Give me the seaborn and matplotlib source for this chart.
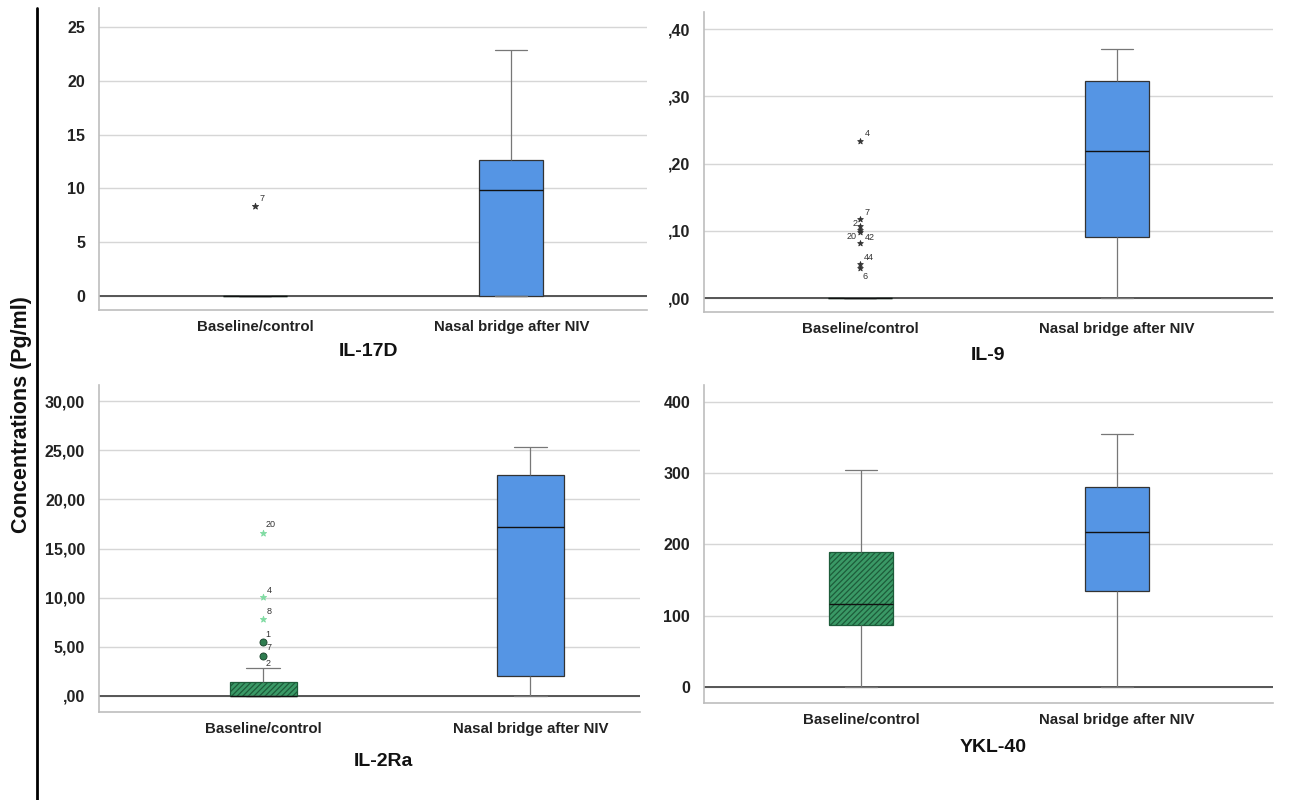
import pandas as pd
import seaborn as sns
import matplotlib.pyplot as plt
from matplotlib.lines import Line2D

groups = ["Baseline/control", "Nasal bridge after NIV"]

# box summaries: whisker low, q1, median, q3, whisker high
il17d_base = [0, 0, 0, 0, 0]
il17d_nasal = [0, 0, 9.85, 12.64, 22.9]
il9_base = [0, 0, 0, 0, 0]
il9_nasal = [0, 0.091, 0.219, 0.323, 0.370]
il2ra_base = [0, 0, 0, 1.45, 2.88]
il2ra_nasal = [0, 2.03, 17.22, 22.47, 25.35]
ykl40_base = [0, 87, 116.5, 190, 304.6]
ykl40_nasal = [0, 134.7, 217.5, 280.7, 355]

# outliers of the baseline group (values and case numbers)
il17d_stars = [8.4]
il17d_star_ids = ["7"]
il9_stars = [0.234, 0.117, 0.107, 0.101, 0.098, 0.082, 0.050, 0.045]
il9_star_ids = ["4", "7", "2", "20", "42", "", "44", "6"]
il2ra_stars = [16.6, 10.04, 7.86]
il2ra_star_ids = ["20", "4", "8"]
il2ra_circles = [5.52, 4.10]
il2ra_circle_ids = ["1", "7"]
il2ra_cap_id = ["2"]
il2ra_cap_val = [2.88]

# axis ticks
il17d_ticks = [0, 5, 10, 15, 20, 25]
il17d_labels = ["0", "5", "10", "15", "20", "25"]
il9_ticks = [0, 0.1, 0.2, 0.3, 0.4]
il9_labels = [",00", ",10", ",20", ",30", ",40"]
il2ra_ticks = [0, 5, 10, 15, 20, 25, 30]
il2ra_labels = [",00", "5,00", "10,00", "15,00", "20,00", "25,00", "30,00"]
ykl40_ticks = [0, 100, 200, 300, 400]
ykl40_labels = ["0", "100", "200", "300", "400"]

BLUE = "#5595e4"
GREEN = "#3a9966"
DKGREEN = "#1d5c3a"
LTGREEN = "#7fdba2"

sns.set_theme(style="white")
plt.rcParams["font.family"] = ["Liberation Sans", "DejaVu Sans"]
plt.rcParams["hatch.linewidth"] = 0.9

W, H = 1293, 800
fig = plt.figure(figsize=(W / 100, H / 100), dpi=100)


def px_axes(left, top, right, bottom):
    return fig.add_axes([left / W, 1 - bottom / H, (right - left) / W, (bottom - top) / H])


def draw_panel(ax, base, nasal, ticks, labels, ylim, xlim):
    df = pd.DataFrame({
        "group": [groups[0]] * len(base) + [groups[1]] * len(nasal),
        "value": base + nasal,
    })
    ax.axhline(0, color="#555555", lw=1.4, zorder=1.5)
    sns.boxplot(
        data=df, x="group", y="value", hue="group", order=groups,
        hue_order=groups, palette=[GREEN, BLUE], saturation=1, width=0.25,
        whis=(0, 100), showfliers=False, legend=False, linecolor="#333333",
        linewidth=0.9, whiskerprops=dict(color="#777777"),
        capprops=dict(color="#777777"),
        medianprops=dict(color="#111111", lw=1.0), ax=ax,
    )
    for p in ax.patches:
        ext = p.get_path().get_extents()
        if (ext.x0 + ext.x1) / 2 < 0.5:
            p.set_hatch("//////")
            p.set_edgecolor(DKGREEN)
    # shorter caps, about half the box width
    for ln in ax.lines:
        xd, yd = ln.get_xdata(), ln.get_ydata()
        if len(xd) == 2 and yd[0] == yd[1] and ln.get_color() == "#777777":
            c = (xd[0] + xd[1]) / 2
            ln.set_xdata([c - 0.0625, c + 0.0625])
    ax.set_xlim(*xlim)
    ax.set_ylim(*ylim)
    ax.set_yticks(ticks)
    ax.set_yticklabels(labels, fontweight="bold", fontsize=11.5, color="#222222")
    ax.set_xticks([0, 1])
    ax.set_xticklabels(groups, fontweight="bold", fontsize=10.8, color="#222222")
    ax.set_xlabel("")
    ax.set_ylabel("")
    ax.grid(axis="y", color="#d6d6d6", lw=1)
    ax.set_axisbelow(True)
    for s in ["top", "right"]:
        ax.spines[s].set_visible(False)
    for s in ["left", "bottom"]:
        ax.spines[s].set_color("#bdbdbd")
        ax.spines[s].set_linewidth(1.2)
    ax.tick_params(axis="y", length=4, color="#bdbdbd", pad=6)
    ax.tick_params(axis="x", length=0, pad=7)


def mark(ax, vals, ids, marker, color, size, offsets, edge=None):
    xs = [0] * len(vals)
    sns.scatterplot(x=xs, y=vals, marker=marker, color=color, s=size,
                    edgecolor=edge if edge else color, linewidth=0.6,
                    ax=ax, legend=False, zorder=5)
    for v, t, off in zip(vals, ids, offsets):
        if t:
            ax.annotate(t, (0, v), xytext=off, textcoords="offset pixels",
                        fontsize=6.5, color="#333333", ha="center", va="center")


ax1 = px_axes(99, 8, 647, 310)
draw_panel(ax1, il17d_base, il17d_nasal, il17d_ticks, il17d_labels,
           (-1.3, 26.77), (-0.61, 1.53))
mark(ax1, il17d_stars, il17d_star_ids, "*", "#333333", 22, [(7, 7)])

ax2 = px_axes(704, 12, 1273, 312)
draw_panel(ax2, il9_base, il9_nasal, il9_ticks, il9_labels,
           (-0.0208, 0.4253), (-0.61, 1.61))
mark(ax2, il9_stars, il9_star_ids, "*", "#333333", 18,
     [(7, 7), (7, 7), (-5, 3), (-9, -6), (9, -5), (0, 0), (8, 7), (5, -9)])

ax3 = px_axes(99, 385, 640, 712)
draw_panel(ax3, il2ra_base, il2ra_nasal, il2ra_ticks, il2ra_labels,
           (-1.63, 31.63), (-0.614, 1.41))
mark(ax3, il2ra_stars, il2ra_star_ids, "*", LTGREEN, 22, [(7, 8), (6, 7), (6, 7)])
mark(ax3, il2ra_circles, il2ra_circle_ids, "o", "#2f7d50", 26, [(5, 7), (6, 8)],
     edge="#1a3f2a")
for v, t in zip(il2ra_cap_val, il2ra_cap_id):
    ax3.annotate(t, (0, v), xytext=(5, 4), textcoords="offset pixels",
                 fontsize=6.5, color="#333333", ha="center", va="center")

ax4 = px_axes(704, 385, 1273, 703)
draw_panel(ax4, ykl40_base, ykl40_nasal, ykl40_ticks, ykl40_labels,
           (-22.5, 423.9), (-0.613, 1.609))

# panel titles under each axes
for txt, x, y in [("IL-17D", 368, 352), ("IL-9", 988, 355),
                  ("IL-2Ra", 383, 762), ("YKL-40", 993, 748)]:
    fig.text(x / W, 1 - y / H, txt, ha="center", va="center",
             fontsize=14, fontweight="bold", color="#111111")

fig.text(22 / W, 1 - 415 / H, "Concentrations (Pg/ml)", rotation=90,
         ha="center", va="center", fontsize=15.5, fontweight="bold", color="#111111")
fig.add_artist(Line2D([37 / W, 37 / W], [1 - 8 / H, 0], color="black", lw=2))

fig.savefig("out.png", dpi=100)
